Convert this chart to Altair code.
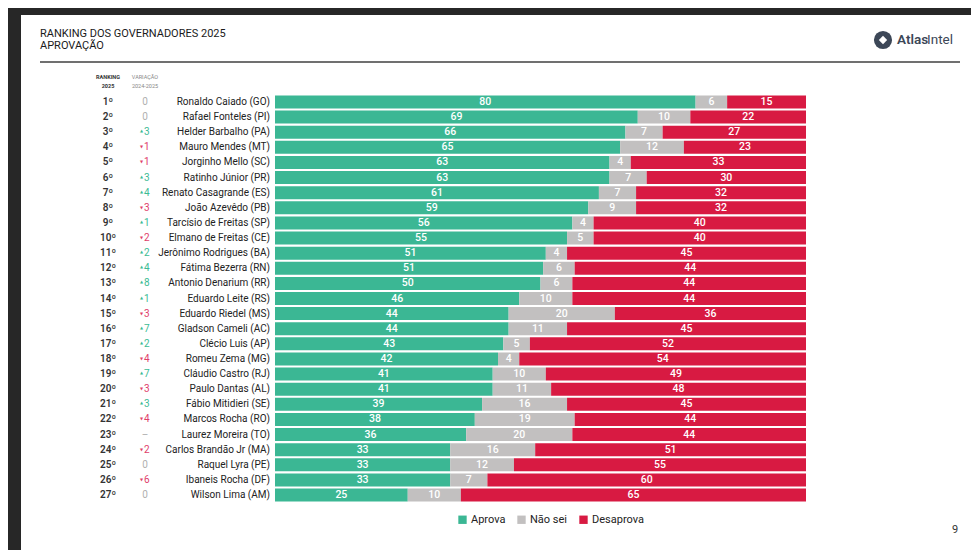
import altair as alt
import pandas as pd

names = ["Ronaldo Caiado (GO)", "Rafael Fonteles (PI)", "Helder Barbalho (PA)", "Mauro Mendes (MT)",
         "Jorginho Mello (SC)", "Ratinho Júnior (PR)", "Renato Casagrande (ES)", "João Azevêdo (PB)",
         "Tarcísio de Freitas (SP)", "Elmano de Freitas (CE)", "Jerônimo Rodrigues (BA)", "Fátima Bezerra (RN)",
         "Antonio Denarium (RR)", "Eduardo Leite (RS)", "Eduardo Riedel (MS)", "Gladson Cameli (AC)",
         "Clécio Luis (AP)", "Romeu Zema (MG)", "Cláudio Castro (RJ)", "Paulo Dantas (AL)",
         "Fábio Mitidieri (SE)", "Marcos Rocha (RO)", "Laurez Moreira (TO)", "Carlos Brandão Jr (MA)",
         "Raquel Lyra (PE)", "Ibaneis Rocha (DF)", "Wilson Lima (AM)"]
ranks = [f"{i}º" for i in range(1, 28)]
variation = [0, 0, 3, -1, -1, 3, 4, -3, 1, -2, 2, 4, 8, 1, -3, 7, 2, -4, 7, -3, 3, -4, None, -2, 0, -6, 0]
aprova = [80, 69, 66, 65, 63, 63, 61, 59, 56, 55, 51, 51, 50, 46, 44, 44, 43, 42, 41, 41, 39, 38, 36, 33, 33, 33, 25]
nao_sei = [6, 10, 7, 12, 4, 7, 7, 9, 4, 5, 4, 6, 6, 10, 20, 11, 5, 4, 10, 11, 16, 19, 20, 16, 12, 7, 10]
desaprova = [15, 22, 27, 23, 33, 30, 32, 32, 40, 40, 45, 44, 44, 44, 36, 45, 52, 54, 49, 48, 45, 44, 44, 51, 55, 60, 65]

categories = ["Aprova", "Não sei", "Desaprova"]
colors = ["#3bb794", "#c2c0c0", "#d81a42"]

rows = []
for i, n in enumerate(names):
    for k, (cat, vals) in enumerate(zip(categories, [aprova, nao_sei, desaprova])):
        rows.append({"name": n, "cat": cat, "order": k, "value": vals[i]})
long_df = pd.DataFrame(rows)

def var_num(v):
    if v is None:
        return "–"
    return str(abs(v))

def var_sign(v):
    if v is None or v == 0:
        return "zero"
    return "up" if v > 0 else "down"

info_df = pd.DataFrame({
    "name": names,
    "rank": ranks,
    "vnum": [var_num(v) for v in variation],
    "vsign": [var_sign(v) for v in variation],
})

y_enc = alt.Y("name:N", scale=alt.Scale(domain=names, range=[79.4, 487.6],
                                        paddingInner=0.14, paddingOuter=0.07), axis=None)
x_scale = alt.Scale(domain=[0, 1], range=[254, 785])

base = alt.Chart(long_df).transform_stack(
    stack="value", groupby=["name"], sort=[alt.SortField("order")],
    as_=["x0", "x1"], offset="normalize"
).transform_calculate(mid="(datum.x0 + datum.x1) / 2")

bars = base.mark_bar().encode(
    x=alt.X("x0:Q", scale=x_scale, axis=None),
    x2="x1:Q",
    y=y_enc,
    color=alt.Color("cat:N", scale=alt.Scale(domain=categories, range=colors),
                    legend=alt.Legend(title=None, orient="none", legendX=436, legendY=499,
                                      direction="horizontal", symbolType="square",
                                      symbolSize=70, symbolStrokeWidth=0, symbolOpacity=1,
                                      labelFont="Roboto", labelFontSize=11, labelColor="#222",
                                      columnPadding=10, labelOffset=3)),
)

bar_labels = base.mark_text(color="white", font="Roboto", fontSize=10.5, fontWeight=500).encode(
    x=alt.X("mid:Q", scale=x_scale, axis=None),
    y=y_enc,
    text="value:Q",
)

info = alt.Chart(info_df)
name_text = info.mark_text(align="right", font="Roboto", fontSize=10, color="#222").encode(
    x=alt.value(249), y=y_enc, text="name:N")
rank_text = info.mark_text(align="center", font="Roboto", fontSize=10, fontWeight=600, color="#333").encode(
    x=alt.value(87), y=y_enc, text="rank:N")

var_layers = []
for sign, col, tri in [("up", "#3dbb94", "▲"), ("down", "#e0406a", "▼")]:
    sub = info.transform_filter(alt.datum.vsign == sign)
    var_layers.append(sub.mark_text(align="center", font="DejaVu Sans", fontSize=4, color=col,
                                    dy=-1 if sign == "up" else 0).encode(
        x=alt.value(120.5), y=y_enc, text=alt.value(tri)))
    var_layers.append(sub.mark_text(align="left", font="Roboto", fontSize=10, color=col).encode(
        x=alt.value(123), y=y_enc, text="vnum:N"))
var_layers.append(info.transform_filter(alt.datum.vsign == "zero").mark_text(
    align="center", font="Roboto", fontSize=10, color="#b0b0b0").encode(
    x=alt.value(124), y=y_enc, text="vnum:N"))

one = pd.DataFrame({"a": [0]})
def label(txt, x, y, size=11, color="#1a1a1a", weight="normal", align="left", font="Roboto"):
    return alt.Chart(one).mark_text(text=txt, align=align, baseline="middle", fontSize=size,
                                    color=color, fontWeight=weight, font=font).encode(
        x=alt.value(x), y=alt.value(y))

title1 = label("RANKING DOS GOVERNADORES 2025", 19, 19, size=11)
title2 = label("APROVAÇÃO", 19, 31, size=11)
h1 = label("RANKING", 87, 62, size=5.5, weight="bold", align="center", color="#333")
h2 = label("2025", 87, 71, size=5.5, weight="bold", align="center", color="#333")
h3 = label("VARIAÇÃO", 124, 62, size=5.5, align="center", color="#888")
h4 = label("2024-2025", 124, 71, size=5.5, align="center", color="#888")
page_num = label("9", 934, 515, size=11, color="#333", align="center")

logo_circle = alt.Chart(one).mark_point(shape="circle", filled=True, size=330, color="#3c4757", opacity=1).encode(
    x=alt.value(862), y=alt.value(25))
logo_diamond = alt.Chart(one).mark_point(shape="diamond", filled=True, size=70, color="white", opacity=1).encode(
    x=alt.value(862), y=alt.value(25))
logo_t1 = label("Atlas", 876, 25, size=13.5, color="#3c4757", weight=600)
logo_t2 = label("Intel", 906, 25, size=13.5, color="#3c4757", weight="normal")

rule = alt.Chart(one).mark_rule(color="#707070", strokeWidth=2).encode(
    x=alt.value(19), x2=alt.value(939), y=alt.value(47))

chart = alt.layer(
    bars, bar_labels, name_text, rank_text, *var_layers,
    title1, title2, h1, h2, h3, h4, page_num, logo_circle, logo_diamond, logo_t1, logo_t2, rule
).properties(
    width=950, height=535,
    padding={"left": 13, "top": 7, "right": 0, "bottom": 0},
    autosize=alt.AutoSizeParams(type="none"),
    background="#272727",
).configure_view(fill="white", stroke=None)

chart.save("out.html", embed_options={"renderer": "svg", "actions": False})
